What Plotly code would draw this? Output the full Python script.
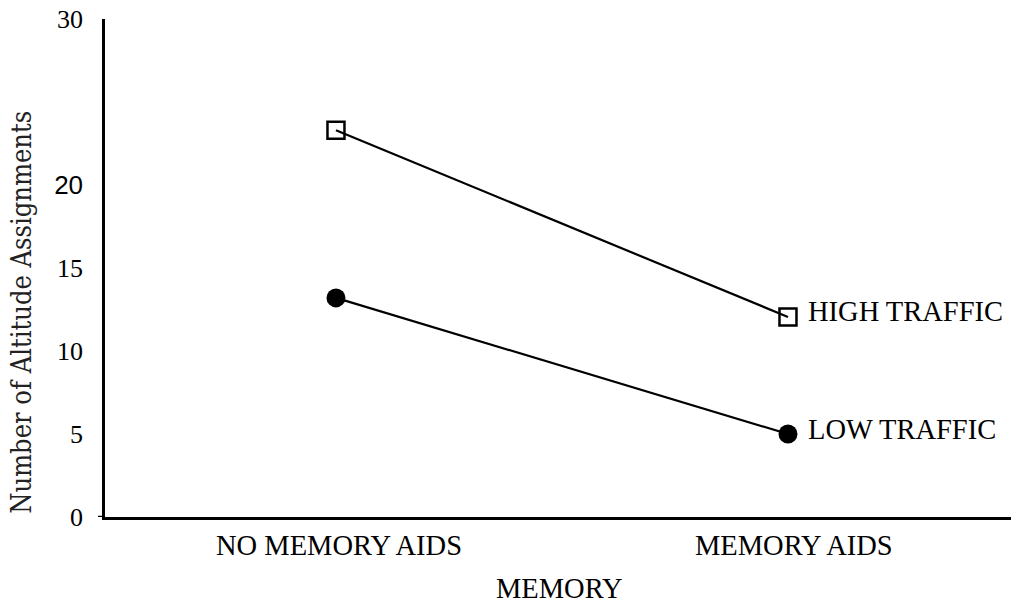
import plotly.graph_objects as go

categories = ["NO MEMORY AIDS", "MEMORY AIDS"]
high_traffic = [23.3, 12.05]
low_traffic = [13.2, 5.0]
series_names = ["HIGH TRAFFIC", "LOW TRAFFIC"]
y_tickvals = [0, 5, 10, 15, 20, 30]
y_ticktext = ["0", "5", "10", "15", "<span style='font-family:Liberation Sans'>20</span>", "30"]

serif = "Liberation Serif, Times New Roman, serif"
xpos = list(range(len(categories)))

fig = go.Figure()
fig.add_trace(go.Scatter(
    x=xpos, y=high_traffic, mode="lines+markers", name=series_names[0],
    line=dict(color="black", width=2.2),
    marker=dict(symbol="square-open", size=17, color="black", line=dict(width=2.5, color="black")),
))
fig.add_trace(go.Scatter(
    x=xpos, y=low_traffic, mode="lines+markers", name=series_names[1],
    line=dict(color="black", width=2.2),
    marker=dict(symbol="circle", size=19, color="black"),
))

# series labels next to last points
for vals, name in zip([high_traffic, low_traffic], series_names):
    fig.add_annotation(x=xpos[-1], y=vals[-1], text=name, showarrow=False,
                       xanchor="left", yanchor="middle", xshift=18, yshift=5,
                       font=dict(family=serif, size=28.5, color="black"))

# category labels under the axis
for i, (cat, shift) in enumerate(zip(categories, [3, 6])):
    fig.add_annotation(x=xpos[i], y=0, yref="paper", text=cat, showarrow=False,
                       xanchor="center", yanchor="top", xshift=shift, yshift=-11,
                       font=dict(family=serif, size=28.5, color="black"))

# x-axis title
fig.add_annotation(x=0.502, y=0, xref="paper", yref="paper", text="MEMORY", showarrow=False,
                   xanchor="center", yanchor="top", yshift=-54,
                   font=dict(family=serif, size=28.5, color="black"))

# y-axis title
fig.add_annotation(x=0, y=0.41, xref="paper", yref="paper", text="Number of Altitude Assignments",
                   showarrow=False, textangle=-90, xanchor="center", yanchor="middle", xshift=-83,
                   font=dict(family="DejaVu Serif Condensed, Liberation Serif, serif", size=27, color="#222"))

# small tick at y=0 to the left of the y axis
fig.add_shape(type="line", xref="paper", yref="y", x0=-0.0077, x1=0, y0=0, y1=0,
              line=dict(color="black", width=2.5))

fig.update_layout(
    width=1011, height=606,
    margin=dict(l=105, r=0, t=19, b=89),
    paper_bgcolor="white", plot_bgcolor="white",
    showlegend=False,
    xaxis=dict(range=[-0.511, 1.4934], showgrid=False, zeroline=False, showticklabels=False,
               ticks="", showline=True, linecolor="black", linewidth=2.5),
    yaxis=dict(range=[0, 30], showgrid=False, zeroline=False, tickvals=y_tickvals, ticktext=y_ticktext,
               ticks="", showline=True, linecolor="black", linewidth=2.5,
               ticklabelstandoff=14,
               tickfont=dict(family=serif, size=26, color="black")),
)

# remove the browser's default 8px body margin so the figure fills the window
fig.write_html("out.html", config={"displayModeBar": False},
               post_script="document.body.style.margin='0';")
